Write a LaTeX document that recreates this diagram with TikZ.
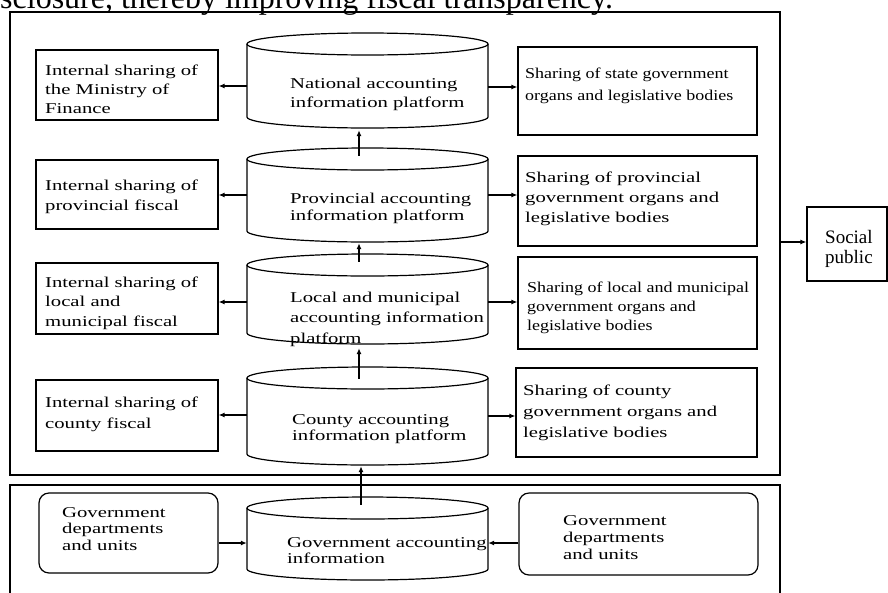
\documentclass[tikz,border=0pt]{standalone}
\usepackage{fontspec}
\setmainfont{Liberation Serif}
\newfontfamily\fa[FakeStretch=1.38]{Liberation Serif}
\newfontfamily\fb[FakeStretch=1.2]{Liberation Serif}
\usetikzlibrary{arrows.meta}
\newcommand\tl[2][18]{\vtop{\baselineskip=#1pt\relax\halign{##\hfil\cr#2\crcr}}}
\newcommand\mycyl[3]{%
  \node[region, minimum width=241pt, minimum height={(#3-#2)*1pt}] (#1) at (367.5,{(#2+#3)/2}) {};
  \draw[cylline] (367.5,#2+11) ellipse[x radius=120.5pt, y radius=11pt];
  \draw[cylline] (247,#2+11) -- (247,#3-11) arc[start angle=180,end angle=360,x radius=120.5pt,y radius=11pt] -- (488,#2+11);
}
\begin{document}
\begin{tikzpicture}[x=1pt,y=-1pt,
  box/.style={draw, line width=1.2pt, inner sep=0pt},
  rbox/.style={box, rounded corners=10pt},
  region/.style={inner sep=0pt},
  cylline/.style={line width=1.2pt},
  txt/.style={anchor=base west, inner sep=0pt, font=\fa\fontsize{15}{18}\selectfont},
  txtb/.style={anchor=base west, inner sep=0pt, font=\fb\fontsize{15}{18}\selectfont},
  arr/.style={line width=1.2pt, -{Latex[length=6pt,width=5pt]}}]
\useasboundingbox (0,0) rectangle (888,592);

% fragment of body text above the figure
\node[anchor=base west, inner sep=0pt, font=\fontsize{32}{36}\selectfont] (toptext) at (0,8.5) {sclosure, thereby improving fiscal transparency.};

% frames
\node[box, line width=1.4pt, minimum width=770pt, minimum height=463pt] (outer) at (395,243.5) {};
\node[box, line width=1.4pt, minimum width=770pt, minimum height=135pt] (lower) at (395,552.5) {};

% cylinders
\mycyl{nat}{33}{128}
\mycyl{prov}{148}{242}
\mycyl{loc}{254}{344}
\mycyl{cty}{367}{465}
\mycyl{gov}{497}{580}

% left boxes
\node[box, minimum width=182pt, minimum height=70pt] (L1) at (127,85) {};
\node[box, minimum width=182pt, minimum height=69pt] (L2) at (127,194.5) {};
\node[box, minimum width=182pt, minimum height=71pt] (L3) at (127,298.5) {};
\node[box, minimum width=182pt, minimum height=71pt] (L4) at (127,415.5) {};
% right boxes
\node[box, minimum width=239pt, minimum height=88pt] (R1) at (637.5,91) {};
\node[box, minimum width=239pt, minimum height=90pt] (R2) at (637.5,201) {};
\node[box, minimum width=239pt, minimum height=92pt] (R3) at (637.5,303) {};
\node[box, minimum width=241pt, minimum height=89pt] (R4) at (636.5,412.5) {};
% social public
\node[box, minimum width=80pt, minimum height=74pt] (soc) at (847,244) {};
% government departments
\node[rbox, minimum width=179pt, minimum height=80pt] (G1) at (128.5,533) {};
\node[rbox, minimum width=239pt, minimum height=82pt] (G2) at (638.5,534) {};

% texts
\node[txt] (tL1) at (45,75) {\tl[19]{Internal sharing of\cr the Ministry of\cr Finance}};
\node[txt] (tL2) at (45,190) {\tl[20]{Internal sharing of\cr provincial fiscal}};
\node[txt] (tL3) at (45,287) {\tl[19.5]{Internal sharing of\cr local and\cr municipal fiscal}};
\node[txt] (tL4) at (45,407) {\tl[21]{Internal sharing of\cr county fiscal}};

\node[txtb] (tR1) at (525,78) {\tl[22]{Sharing of state government\cr organs and legislative bodies}};
\node[txt] (tR2) at (525,182) {\tl[20]{Sharing of provincial\cr government organs and\cr legislative bodies}};
\node[txtb] (tR3) at (527,292) {\tl[19]{Sharing of local and municipal\cr government organs and\cr legislative bodies}};
\node[txt] (tR4) at (523,395) {\tl[21]{Sharing of county\cr government organs and\cr legislative bodies}};

\node[txt] (tnat) at (290,88) {\tl[19]{National accounting\cr information platform}};
\node[txt] (tprov) at (290,203) {\tl[17]{Provincial accounting\cr information platform}};
\node[txt] (tloc) at (290,302) {\tl[20.5]{Local and municipal\cr accounting information\cr platform}};
\node[txt] (tcty) at (292,424) {\tl[16]{County accounting\cr information platform}};
\node[txt] (tgov) at (287,547) {\tl[16]{Government accounting\cr information}};

\node[txt] (tG1) at (62,517) {\tl[16.5]{Government\cr departments\cr and units}};
\node[txt] (tG2) at (563,525) {\tl[17]{Government\cr departments\cr and units}};
\node[anchor=base west, inner sep=0pt, font=\fontsize{19}{20}\selectfont] (tsoc) at (825,243) {\tl[20]{Social\cr public}};

% horizontal arrows
\draw[arr] (nat.west |- 0,86) -- (L1.east |- 0,86);
\draw[arr] (nat.east |- 0,87) -- (R1.west |- 0,87);
\draw[arr] (prov.west |- 0,195) -- (L2.east |- 0,195);
\draw[arr] (prov.east |- 0,195) -- (R2.west |- 0,195);
\draw[arr] (loc.west |- 0,302) -- (L3.east |- 0,302);
\draw[arr] (loc.east |- 0,302) -- (R3.west |- 0,302);
\draw[arr] (cty.west |- 0,415) -- (L4.east |- 0,415);
\draw[arr] (cty.east |- 0,416) -- (R4.west |- 0,416);
\draw[arr] (G1.east |- 0,543) -- (gov.west |- 0,543);
\draw[arr] (G2.west |- 0,543) -- (gov.east |- 0,543);
\draw[arr] (outer.east |- 0,242) -- (soc.west |- 0,242);

% vertical arrows
\draw[arr] ([yshift=-8pt]prov.north -| 359,0) -- ([yshift=-2pt]nat.south -| 359,0);
\draw[arr] ([yshift=-8pt]loc.north -| 359,0) -- ([yshift=-1pt]prov.south -| 359,0);
\draw[arr] ([yshift=-12pt]cty.north -| 359,0) -- ([yshift=-4pt]loc.south -| 359,0);
\draw[arr] ([yshift=-8pt]gov.north -| 361,0) -- ([yshift=-1pt]cty.south -| 361,0);
\end{tikzpicture}
\end{document}
